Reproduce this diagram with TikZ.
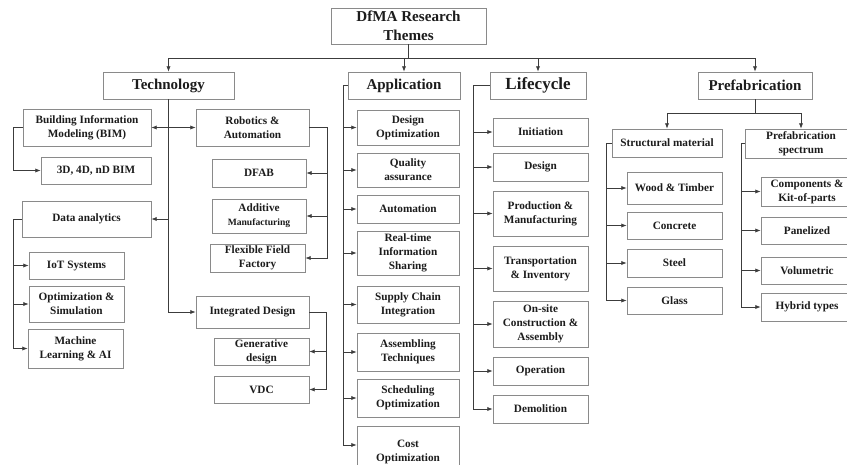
\documentclass[tikz,border=0pt]{standalone}
\usepackage{fontspec}
\setmainfont{Liberation Serif}
\usetikzlibrary{arrows.meta}
\definecolor{boxgray}{HTML}{8A8A8A}
\definecolor{linegray}{HTML}{3C3C3C}
\definecolor{inkgray}{HTML}{1C1C1C}
% box from its corners (x1,y1) (x2,y2) in pixels
\newcommand{\themebox}[7][]{
    \pgfmathsetmacro{\bw}{(#5-#3)*0.03}
    \pgfmathsetmacro{\bh}{(#6-#4)*0.03}
    \node (#2) [box,minimum width=\bw cm,minimum height=\bh cm,#1] at ({(#3+#5)/2},{(#4+#6)/2}) {#7};
}
\begin{document}
\begin{tikzpicture}[x=0.03cm,y=-0.03cm,>={Latex[length=4.6pt,width=3.6pt]}]

\tikzstyle{box}=[draw=boxgray,line width=0.6pt,fill=white,inner sep=0pt,align=center,text=inkgray,font=\bfseries\fontsize{9.6}{12}\selectfont]
\tikzstyle{theme}=[font=\bfseries\fontsize{12.8}{15}\selectfont]
\tikzstyle{link}=[draw=linegray,line width=0.6pt]

\useasboundingbox (0,0) rectangle (847,464);
\clip (0,0) rectangle (847,464);

% root and main themes
\themebox[font=\bfseries\fontsize{12.9}{16}\selectfont]{root}{331}{8}{486}{44}{DfMA Research\\Themes}
\themebox[theme]{tech}{103}{72}{234}{99}{Technology}
\themebox[theme]{appl}{348}{72}{460}{99}{Application}
\themebox[theme,font=\bfseries\fontsize{14.5}{16}\selectfont]{life}{490}{72}{586}{99}{Lifecycle}
\themebox[theme]{prefab}{698}{72}{812}{99}{Prefabrication}

\coordinate (bus) at (0,58);
\draw[link] (root.south) -- (root.south |- bus);
\foreach \t in {tech,appl,life,prefab}
    \draw[link,->] (root.south |- bus) -| (\t.north);

% technology
\themebox{bim}{23}{109}{151}{146}{Building Information\\Modeling (BIM)}
\themebox{robot}{196}{109}{309}{146}{Robotics \&\\Automation}
\themebox{bimnd}{41}{157}{151}{184}{3D, 4D, nD BIM}
\themebox{data}{22}{201}{151}{237}{Data analytics}
\themebox{iot}{29}{252}{124}{279}{IoT Systems}
\themebox{optsim}{29}{286}{124}{322}{Optimization \&\\Simulation}
\themebox{ml}{28}{329}{123}{368}{Machine\\Learning \& AI}
\themebox{dfab}{212}{159}{306}{187}{DFAB}
\themebox{addit}{212}{199}{306}{233}{Additive\\{\fontsize{8.2}{10}\selectfont Manufacturing}}
\themebox{flex}{210}{244}{305}{272}{Flexible Field\\Factory}
\themebox{integ}{196}{296}{309}{328}{Integrated Design}
\themebox{gen}{214}{338}{309}{365}{Generative\\design}
\themebox{vdc}{214}{376}{309}{403}{VDC}

\draw[link,->] (tech.south) |- (integ.west);
\draw[link,->] (tech.south) |- (data.east);
\draw[link,<->] (bim.east) -- (robot.west);
\draw[link,->] (bim.west) -- ++(-9,0) |- (bimnd.west);
\foreach \c in {iot,optsim,ml}
    \draw[link,->] (data.west) -- ++(-8,0) |- (\c.west);
\foreach \c in {dfab,addit,flex}
    \draw[link,->] (robot.east) -- ++(18,0) |- (\c.east);
\foreach \c in {gen,vdc}
    \draw[link,->] (integ.east) -- ++(17,0) |- (\c.east);

% application
\themebox{dopt}{357}{110}{459}{145}{Design\\Optimization}
\themebox{qual}{357}{153}{459}{187}{Quality\\assurance}
\themebox{auto}{357}{195}{459}{223}{Automation}
\themebox{realt}{357}{231}{459}{275}{Real-time\\Information\\Sharing}
\themebox{supply}{357}{286}{459}{323}{Supply Chain\\Integration}
\themebox{assem}{357}{333}{459}{371}{Assembling\\Techniques}
\themebox{sched}{357}{379}{459}{417}{Scheduling\\Optimization}
\themebox{cost}{357}{426}{459}{478}{Cost\\Optimization}

\foreach \c in {dopt,qual,auto,realt,supply,assem,sched}
    \draw[link,->] (appl.west) -- ++(-4,0) |- (\c.west);
\draw[link,->] (appl.west) -- ++(-4,0) |- ([yshift=6pt]cost.west);

% lifecycle
\themebox{init}{493}{118}{588}{146}{Initiation}
\themebox{des}{493}{153}{588}{181}{Design}
\themebox{prod}{493}{191}{588}{236}{Production \&\\Manufacturing}
\themebox{trans}{493}{246}{588}{291}{Transportation\\\& Inventory}
\themebox{onsite}{493}{301}{588}{347}{On-site\\Construction \&\\Assembly}
\themebox{oper}{493}{357}{588}{385}{Operation}
\themebox{demol}{493}{395}{588}{423}{Demolition}

\foreach \c in {init,des,prod,trans,onsite,oper,demol}
    \draw[link,->] (life.west) -- ++(-16,0) |- (\c.west);

% prefabrication
\themebox{struct}{612}{129}{722}{157}{Structural material}
\themebox{spec}{745}{129}{857}{158}{Prefabrication\\spectrum}
\themebox{wood}{627}{172}{722}{204}{Wood \& Timber}
\themebox{conc}{627}{212}{722}{239}{Concrete}
\themebox{steel}{627}{249}{722}{277}{Steel}
\themebox{glass}{627}{287}{722}{314}{Glass}
\themebox{comp}{761}{177}{853}{206}{Components \&\\Kit-of-parts}
\themebox{panel}{761}{217}{853}{244}{Panelized}
\themebox{volu}{761}{257}{853}{284}{Volumetric}
\themebox{hybrid}{761}{293}{853}{321}{Hybrid types}

\draw[link,->] (prefab.south) -- ++(0,14) -| (struct.north);
\draw[link,->] (prefab.south) -- ++(0,14) -| (spec.north);
\foreach \c in {wood,conc,steel,glass}
    \draw[link,->] (struct.west) -- ++(-5,0) |- (\c.west);
\foreach \c in {comp,panel,volu,hybrid}
    \draw[link,->] (spec.west) -- ++(-3,0) |- (\c.west);

\end{tikzpicture}
\end{document}
